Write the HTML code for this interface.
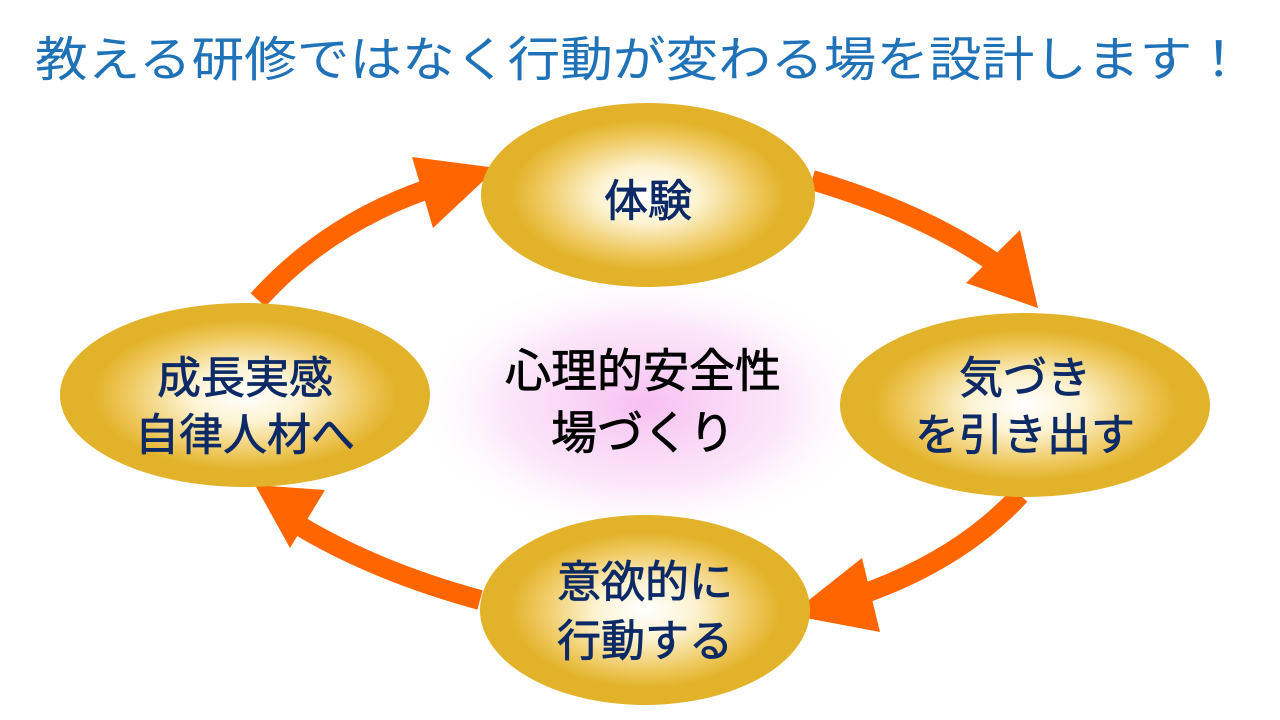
<!DOCTYPE html>
<html><head><meta charset="utf-8"><style>
html,body{margin:0;padding:0;background:#fff;}
svg{display:block}
text{font-family:"Liberation Sans","Noto Sans CJK JP",sans-serif;}
</style></head><body>
<svg width="1280" height="720" viewBox="0 0 1280 720" xmlns="http://www.w3.org/2000/svg">
<defs>
<radialGradient id="g" cx="50%" cy="50%" r="50%">
<stop offset="0" stop-color="#ffffff"/>
<stop offset="0.3" stop-color="#fdf3d2"/>
<stop offset="0.65" stop-color="#eec75a"/>
<stop offset="0.82" stop-color="#e2b22a"/>
<stop offset="1" stop-color="#e2b22a"/>
</radialGradient>
<radialGradient id="p" cx="50%" cy="50%" r="50%">
<stop offset="0" stop-color="#f6b8f0" stop-opacity="0.9"/>
<stop offset="0.6" stop-color="#fad6f6" stop-opacity="0.6"/>
<stop offset="1" stop-color="#ffffff" stop-opacity="0"/>
</radialGradient>
</defs>
<text x="640" y="76" text-anchor="middle" font-size="48" fill="#1f72b8" textLength="1210" lengthAdjust="spacingAndGlyphs">教える研修ではなく行動が変わる場を設計します！</text>
<ellipse cx="645" cy="405" rx="235" ry="135" fill="url(#p)"/>
<g fill="none" stroke="#ff6600" stroke-width="20">
<path d="M258 300 Q330 220 440 185"/>
<path d="M812 180 Q930 215 1005 270"/>
<path d="M1020 495 Q960 560 860 595"/>
<path d="M480 600 Q370 570 290 520"/>
</g>
<g fill="#ff6600">
<polygon points="497,168 412,157 433,228"/>
<polygon points="1038,308 1020,230 966,283"/>
<polygon points="790,615 862,558 880,632"/>
<polygon points="255,485 325,490 290,548"/>
</g>
<ellipse cx="648" cy="195" rx="167" ry="92" fill="url(#g)"/>
<ellipse cx="1025" cy="405" rx="185" ry="92" fill="url(#g)"/>
<ellipse cx="645" cy="610" rx="165" ry="95" fill="url(#g)"/>
<ellipse cx="245" cy="395" rx="185" ry="92" fill="url(#g)"/>
<g fill="#0d2a66" font-size="44" text-anchor="middle" stroke="#0d2a66" stroke-width="0.8">
<text x="648" y="216">体験</text>
<text x="1025" y="393">気づき</text>
<text x="1025" y="450">を引き出す</text>
<text x="645" y="597">意欲的に</text>
<text x="645" y="656">行動する</text>
<text x="245" y="393">成長実感</text>
<text x="245" y="450">自律人材へ</text>
</g>
<g fill="#000" font-size="46" text-anchor="middle" stroke="#000" stroke-width="0.8">
<text x="643" y="387">心理的安全性</text>
<text x="643" y="449">場づくり</text>
</g>
</svg>
</body></html>
